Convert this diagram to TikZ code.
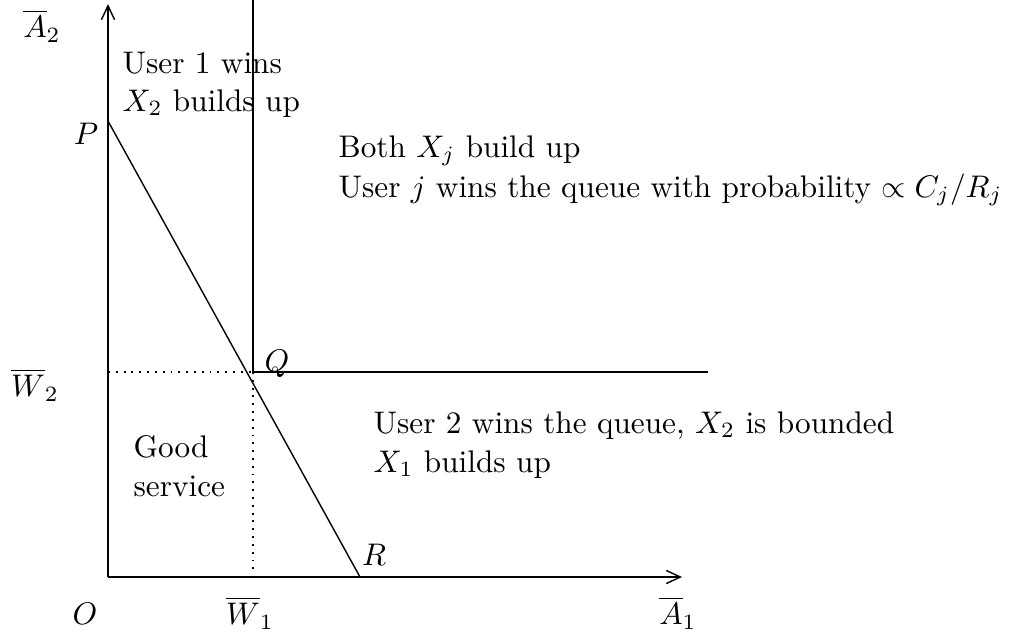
\documentclass[tikz,border=0pt]{standalone}
\usetikzlibrary{arrows.meta}
\begin{document}
\begin{tikzpicture}[x=0.32pt,y=-0.32pt,
  axis/.style={draw,line width=0.45pt,-{Straight Barb[length=4.5pt,width=4.2pt]}},
  line/.style={draw,line width=0.45pt},
  dot/.style={draw,line width=0.5pt,dash pattern=on 0.6pt off 1.9pt},
  txt/.style={anchor=base west,inner sep=0pt},
  lab/.style={anchor=center,inner sep=0pt}]
\useasboundingbox (0,0) rectangle (1023,634);
% points
\coordinate (O) at (108,577);
\coordinate (Ytip) at (108,4);
\coordinate (Xtip) at (682,577);
\coordinate (P) at (108,121);
\coordinate (R) at (360,577);
\coordinate (Q) at (253,372);
\coordinate (Qtop) at (253,0);
\coordinate (Qright) at (708,372);
\coordinate (W2) at (108,372);
\coordinate (W1) at (253,570);
% axes
\draw[axis] (O) -- (Ytip);
\draw[axis] (O) -- (Xtip);
% lines
\draw[line] (Qtop) -- (Q) -- (Qright);
\draw[line] (P) -- (R);
\draw[dot] (W2) -- (Q);
\draw[dot] (Q) -- (W1);
% labels
\node[lab] (lA2) at (42,26) {$\overline{A}_2$};
\node[lab] (lP) at (86,134) {$P$};
\node[lab] (lW2) at (35,385) {$\overline{W}_2$};
\node[lab] (lQ) at (277,364) {$Q$};
\node[lab] (lR) at (374,555) {$R$};
\node[lab] (lO) at (85,614) {$O$};
\node[lab] (lW1) at (250,613) {$\overline{W}_1$};
\node[lab] (lA1) at (678,613) {$\overline{A}_1$};
% region texts
\node[txt] (t1a) at (122,73) {User 1 wins};
\node[txt] (t1b) at (122,111) {$X_2$ builds up};
\node[txt] (t2a) at (338,157) {Both $X_j$ build up};
\node[txt] (t2b) at (338,197) {User $j$ wins the queue with probability $\propto C_j/R_j$};
\node[txt] (t3a) at (373,433) {User 2 wins the queue, $X_2$ is bounded};
\node[txt] (t3b) at (373,472) {$X_1$ builds up};
\node[txt] (t4a) at (133,457) {Good};
\node[txt] (t4b) at (133,496) {service};
\end{tikzpicture}
\end{document}
